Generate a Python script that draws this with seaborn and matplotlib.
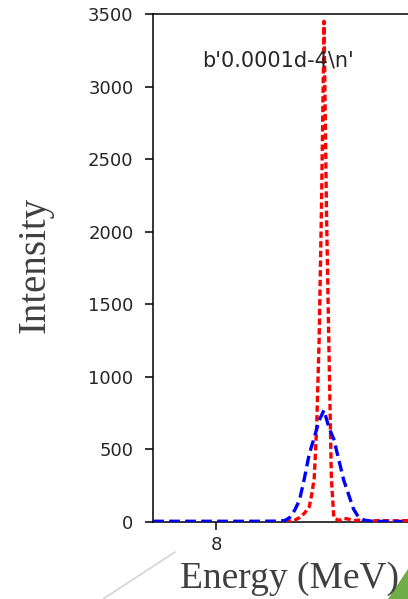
import matplotlib
matplotlib.use("Agg")
import matplotlib.pyplot as plt
from matplotlib.lines import Line2D
from matplotlib.patches import Polygon
import seaborn as sns

# Spectrum samples (energy in MeV, intensity in counts)
energy_red = [8.35, 8.375, 8.40, 8.425, 8.45, 8.475, 8.4875, 8.50, 8.5125,
              8.525, 8.5375, 8.55, 8.5625, 8.575, 8.5875, 8.60, 8.625,
              8.65, 8.675, 8.70, 8.725, 8.75, 8.80, 8.85, 8.90, 9.00, 9.10]
intensity_red = [3, 6, 12, 30, 60, 105, 190, 300, 650,
                 1250, 2200, 3450, 2150, 1200, 300, 30, 10,
                 25, 20, 10, 12, 10, 8, 10, 8, 10, 10]

energy_blue = [7.68, 7.80, 7.90, 8.00, 8.10, 8.20, 8.30, 8.35, 8.375,
               8.40, 8.425, 8.45, 8.475, 8.50, 8.525, 8.55, 8.575,
               8.60, 8.625, 8.65, 8.675, 8.70, 8.725, 8.75, 8.775,
               8.80, 8.85, 8.90, 8.95]
intensity_blue = [5, 5, 5, 5, 5, 5, 6, 10, 30,
                  80, 150, 300, 470, 580, 700, 770, 650,
                  570, 430, 290, 190, 90, 35, 15, 8,
                  5, 4, 4, 4]

y_ticks = [0, 500, 1000, 1500, 2000, 2500, 3000, 3500]
x_ticks = [8]
note_text = "b'0.0001d-4\\n'"

sns.set_style("ticks")
plt.rcParams["font.family"] = ["DejaVu Sans"]

W, H = 408, 599
fig = plt.figure(figsize=(W / 100, H / 100), dpi=100)
fig.patch.set_facecolor("white")

ax = fig.add_axes([153 / W, 77 / H, (432 - 153) / W, (522 - 14) / H])
ax.set_facecolor("white")

sns.lineplot(x=energy_red, y=intensity_red, ax=ax, color="#ff0000",
             linewidth=2.4, linestyle=(0, (1.9, 1.0)), zorder=3)
sns.lineplot(x=energy_blue, y=intensity_blue, ax=ax, color="#0000ff",
             linewidth=2.4, linestyle=(0, (3.2, 1.6)), zorder=4)

ax.set_xlim(7.679, 9.1)
ax.set_ylim(0, 3500)
ax.set_xticks(x_ticks)
ax.set_yticks(y_ticks)
ax.set_xlabel("")
ax.set_ylabel("")

for side in ["left", "right", "top", "bottom"]:
    ax.spines[side].set_visible(True)
    ax.spines[side].set_color("black")
    ax.spines[side].set_linewidth(1.1)

ax.tick_params(axis="both", direction="out", length=6, width=1.1,
               color="black", labelsize=13, labelcolor="#262626")
ax.tick_params(axis="y", pad=8)
ax.tick_params(axis="x", pad=4)

ax.text(8.316, 3182, note_text, ha="center", va="center",
        fontsize=15, color="#262626")

# Axis titles in serif
fig.text(289 / W, 1 - 588 / H, "Energy (MeV)", ha="center", va="baseline",
         fontsize=27, family=["Liberation Serif"], color="#404040")
fig.text(35 / W, 1 - 265 / H, "Intensity", ha="center", va="center",
         rotation=90, fontsize=28, family=["Liberation Serif"],
         color="#404040")

# Decorative slide elements
fig.add_artist(Line2D([103 / W, 175 / W], [1 - 599 / H, 1 - 552 / H],
                      transform=fig.transFigure, color="#d4d4d4",
                      linewidth=1.2, zorder=0))
fig.add_artist(Polygon([[388 / W, 0], [1, 1 - 569 / H], [1, 0]],
                       closed=True, transform=fig.transFigure,
                       facecolor="#70ad47", edgecolor="none", zorder=0))

fig.savefig("out.png", dpi=100)
